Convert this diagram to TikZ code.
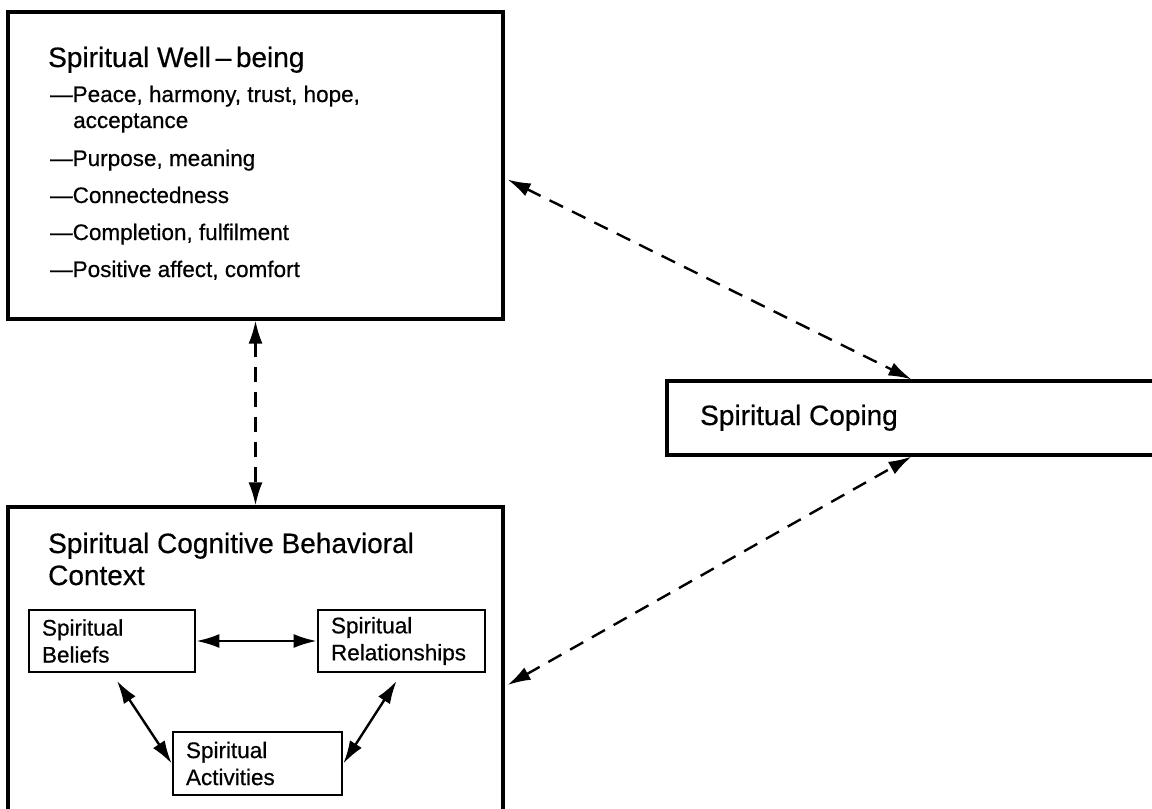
\documentclass[tikz,border=0pt]{standalone}
\usepackage{fontspec}
\setmainfont{Liberation Sans}[FakeBold=0.5]
\usepackage{xcolor}
\usetikzlibrary{arrows.meta}

\begin{document}
\begin{tikzpicture}[x=1pt,y=-1pt]
    \useasboundingbox (0,0) rectangle (1152,809);
    \clip (0,0) rectangle (1152,809);

    \tikzstyle{bigbox}=[draw=black,line width=3.2pt,inner sep=0pt]
    \tikzstyle{smallbox}=[draw=black,line width=2.7pt,inner xsep=13pt,inner ysep=0pt,align=left,minimum height=62pt,font=\fontsize{22.5}{27}\selectfont]
    \tikzstyle{heading}=[anchor=base west,inner sep=0pt,font=\fontsize{28}{32}\selectfont]
    \tikzstyle{item}=[anchor=base west,inner sep=0pt,font=\fontsize{22.5}{27}\selectfont]

    % outer boxes
    \node[bigbox,minimum width=495pt,minimum height=307pt] (wb) at (255.5,165.5) {};
    \node[bigbox,minimum width=495pt,minimum height=356pt] (ctx) at (255.5,685) {};
    \node[bigbox,minimum width=489pt,minimum height=74pt] (cp) at (911.5,418) {};

    % well-being texts
    \node[heading] (wbT) at (48,67) {Spiritual Well\,–\,being};
    \node[item] (peace) at (50,102) {—Peace, harmony, trust, hope,};
    \node[item] (accept) at (73,128) {acceptance};
    \node[item] (purpose) at (50,166) {—Purpose, meaning};
    \node[item] (connect) at (50,203) {—Connectedness};
    \node[item] (complete) at (50,240) {—Completion, fulfilment};
    \node[item] (affect) at (50,277) {—Positive affect, comfort};

    % coping text
    \node[heading] (cpT) at (700,425) {Spiritual Coping};

    % context texts and inner boxes
    \node[heading] (ctxT) at (48,553) {Spiritual Cognitive Behavioral};
    \node[heading] (ctxT2) at (48,585) {Context};

    \node[smallbox,text width=140pt] (bel) at (112,641) {Spiritual\\Beliefs};
    \node[smallbox,text width=141pt] (rel) at (401.5,641) {Spiritual\\Relationships};
    \node[smallbox,text width=143pt,minimum height=63pt] (act) at (257.5,763.5) {Spiritual\\Activities};

    \tikzstyle{both} = [draw=black, line width=2.4pt, {Latex[length=23pt,width=14pt]}-{Latex[length=23pt,width=14pt]}]
    \tikzstyle{dashboth} = [both, dash pattern=on 15pt off 10pt]

          \draw [both] (bel) -- (rel);
          \draw [both, shorten <=9pt] (bel.south) -- (act.west);
          \draw [both, shorten <=9pt] (rel.south) -- (act.east);

          \draw [dashboth] (wb.south) -- (ctx.north);
          \draw [dashboth] ([yshift=-14pt,xshift=3pt]wb.east) -- (cp.north);
          \draw [dashboth] ([xshift=3pt]ctx.east) -- (cp.south);

\end{tikzpicture}
\end{document}
